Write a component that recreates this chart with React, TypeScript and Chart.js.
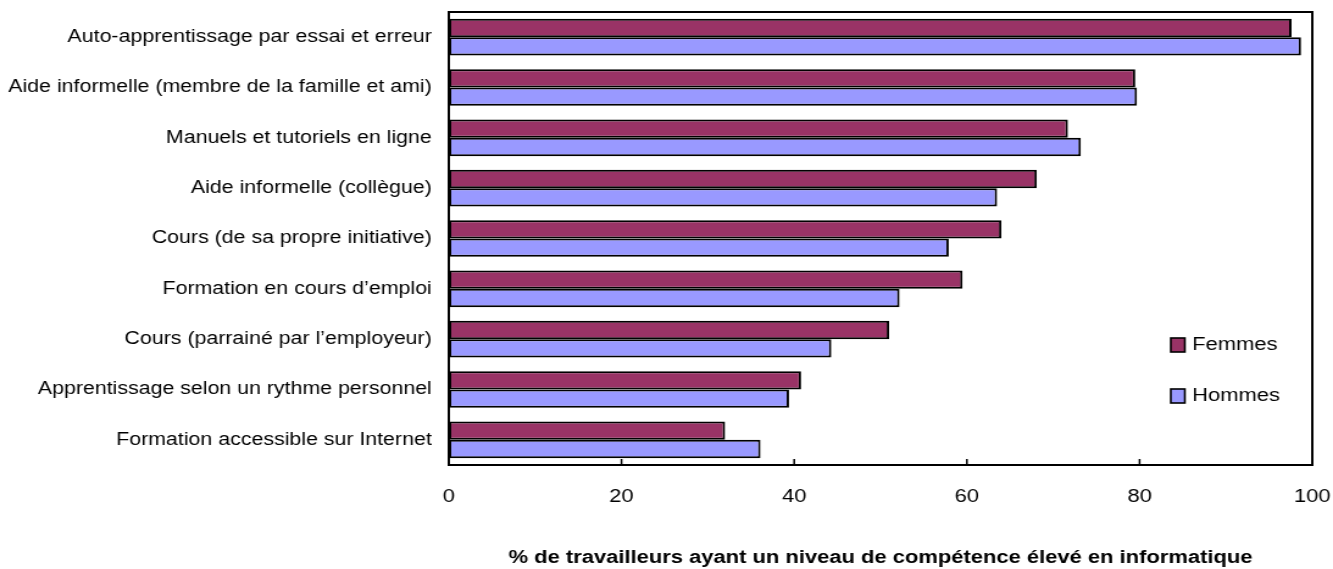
import React, { useEffect, useRef } from "react";
import { Chart, registerables } from "chart.js";

Chart.register(...registerables);

// Learning methods, top to bottom
const categories = [
  "Auto-apprentissage par essai et erreur",
  "Aide informelle (membre de la famille et ami)",
  "Manuels et tutoriels en ligne",
  "Aide informelle (collègue)",
  "Cours (de sa propre initiative)",
  "Formation en cours d’emploi",
  "Cours (parrainé par l’employeur)",
  "Apprentissage selon un rythme personnel",
  "Formation accessible sur Internet",
];

const femmes = [97.6, 79.5, 71.7, 68.1, 64.0, 59.5, 51.0, 40.8, 32.0];
const hommes = [98.7, 79.7, 73.2, 63.5, 57.9, 52.2, 44.3, 39.4, 36.1];

const xTicks = [0, 20, 40, 60, 80, 100];
const xTitle = "% de travailleurs ayant un niveau de compétence élevé en informatique";

const FONT = '"Liberation Sans", Arial, Helvetica, sans-serif';
const COLOR_F = "#993366";
const COLOR_H = "#9999FF";

// The drawing surface is rendered narrower and widened by CSS,
// giving the slightly wide lettering of the original export.
const CANVAS_W = 1093;
const CANVAS_H = 569;
const SCREEN_W = 1333;

const framePlugin = {
  id: "frameAndLegend",
  afterDatasetsDraw(chart: any) {
    const { ctx, chartArea } = chart;
    const xs = chart.scales.x;
    ctx.save();
    // plot frame
    ctx.strokeStyle = "#000";
    ctx.lineWidth = 2;
    ctx.strokeRect(
      chartArea.left,
      chartArea.top,
      chartArea.right - chartArea.left,
      chartArea.bottom - chartArea.top
    );
    // inward tick marks on the value axis
    ctx.lineWidth = 1.5;
    xTicks.slice(1, -1).forEach((v) => {
      const px = xs.getPixelForValue(v);
      ctx.beginPath();
      ctx.moveTo(px, chartArea.bottom);
      ctx.lineTo(px, chartArea.bottom - 6);
      ctx.stroke();
    });
    // legend inside the plot
    const items = [
      { label: "Femmes", color: COLOR_F, y: 345 },
      { label: "Hommes", color: COLOR_H, y: 396 },
    ];
    ctx.font = `18px ${FONT}`;
    ctx.textBaseline = "middle";
    ctx.textAlign = "left";
    items.forEach((it) => {
      ctx.fillStyle = it.color;
      ctx.fillRect(960, it.y - 7, 11.5, 14);
      ctx.lineWidth = 1.6;
      ctx.strokeStyle = "#000";
      ctx.strokeRect(960, it.y - 7, 11.5, 14);
      ctx.fillStyle = "#000";
      ctx.fillText(it.label, 977.5, it.y);
    });
    ctx.restore();
  },
};

export default function App() {
  const canvasRef = useRef<HTMLCanvasElement | null>(null);

  useEffect(() => {
    if (!canvasRef.current) return;
    const chart = new Chart(canvasRef.current, {
      type: "bar",
      data: {
        labels: categories,
        datasets: [
          {
            label: "Femmes",
            data: femmes,
            backgroundColor: COLOR_F,
            borderColor: "#000",
            borderWidth: 2,
            borderSkipped: false,
          },
          {
            label: "Hommes",
            data: hommes,
            backgroundColor: COLOR_H,
            borderColor: "#000",
            borderWidth: 2,
            borderSkipped: false,
          },
        ],
      },
      options: {
        indexAxis: "y",
        responsive: false,
        animation: false,
        devicePixelRatio: 1,
        layout: { padding: { top: 12, right: 17, left: 0, bottom: 0 } },
        datasets: {
          bar: { categoryPercentage: 0.73, barPercentage: 1 },
        },
        plugins: {
          legend: { display: false },
          tooltip: { enabled: false },
        },
        scales: {
          x: {
            min: 0,
            max: 100,
            afterFit: (s: any) => {
              s.height = 104;
              s.paddingLeft = 0;
              s.paddingRight = 0;
            },
            afterBuildTicks: (s: any) => {
              s.ticks = xTicks.map((v) => ({ value: v }));
            },
            grid: { display: false, drawTicks: false },
            border: { display: false },
            ticks: {
              color: "#000",
              padding: 21,
              font: { family: FONT, size: 18 },
              maxRotation: 0,
            },
            title: {
              display: true,
              text: xTitle,
              color: "#000",
              font: { family: FONT, size: 18, weight: "bold" },
              padding: { top: 0, bottom: 0 },
            },
          },
          y: {
            afterFit: (s: any) => {
              s.width = 368;
              s.paddingTop = 0;
              s.paddingBottom = 0;
            },
            grid: { display: false, drawTicks: false },
            border: { display: false },
            ticks: {
              color: "#000",
              padding: 14,
              font: { family: FONT, size: 17.5 },
              autoSkip: false,
            },
          },
        },
      },
      plugins: [framePlugin],
    });
    return () => chart.destroy();
  }, []);

  return (
    <div
      style={{
        position: "absolute",
        left: 0,
        top: 0,
        width: SCREEN_W,
        height: CANVAS_H,
        background: "#fff",
      }}
    >
      <canvas
        ref={canvasRef}
        width={CANVAS_W}
        height={CANVAS_H}
        style={{ display: "block", width: `${SCREEN_W}px`, height: `${CANVAS_H}px` }}
      />
    </div>
  );
}
